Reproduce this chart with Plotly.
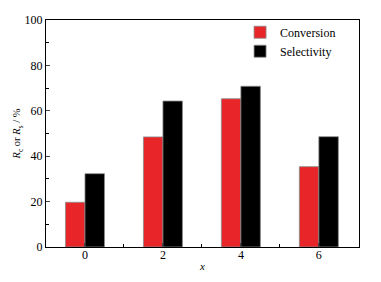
import plotly.graph_objects as go

x_vals = [0, 2, 4, 6]
conversion = [19.7, 48.5, 65.3, 35.4]
selectivity = [32.3, 64.3, 70.8, 48.6]
y_ticks = [0, 20, 40, 60, 80, 100]
x_ticks = [0, 2, 4, 6]

font = "Liberation Serif"
fig = go.Figure()
fig.add_trace(go.Bar(x=x_vals, y=conversion, name="Conversion",
                     marker=dict(color="#E8262A", line=dict(color="#8a8a8a", width=0.8))))
fig.add_trace(go.Bar(x=x_vals, y=selectivity, name="Selectivity",
                     marker=dict(color="#000000", line=dict(color="#8a8a8a", width=0.8))))

fig.update_layout(
    width=381, height=282,
    margin=dict(l=46, r=22, t=20, b=35, autoexpand=False),
    paper_bgcolor="white", plot_bgcolor="white",
    barmode="group", bargap=0.5, bargroupgap=0,
    font=dict(family=font, size=12, color="black"),
    showlegend=True,
    legend=dict(x=0.62, y=1.01, xanchor="left", yanchor="top",
                bgcolor="rgba(0,0,0,0)", font=dict(family=font, size=12),
                itemwidth=30, tracegroupgap=0),
    xaxis=dict(range=[-1, 7.03], tickvals=x_ticks, ticks="inside", ticklen=4,
               showline=True, linecolor="black", linewidth=1, mirror=True,
               showgrid=False, zeroline=False, automargin=False,
               ticklabelstandoff=-3,
               minor=dict(tickvals=[1, 3, 5], ticks="inside", ticklen=3, tickcolor="black"),
               title=dict(text="<i>x</i>", font=dict(family=font, size=11), standoff=0),
               tickfont=dict(family=font, size=12)),
    yaxis=dict(range=[0, 100], tickvals=y_ticks, ticks="inside", ticklen=4,
               showline=True, linecolor="black", linewidth=1, mirror=True,
               showgrid=False, zeroline=False, automargin=False,
               minor=dict(tickvals=[10, 30, 50, 70, 90], ticks="inside", ticklen=3, tickcolor="black"),
               title=dict(text="<i>R</i><sub>c</sub> or <i>R</i><sub>s</sub> / %",
                          font=dict(family=font, size=10.5), standoff=1),
               tickfont=dict(family=font, size=12)),
)
fig.write_html("out.html", config={"displayModeBar": False},
               post_script="document.body.style.margin='0';")
